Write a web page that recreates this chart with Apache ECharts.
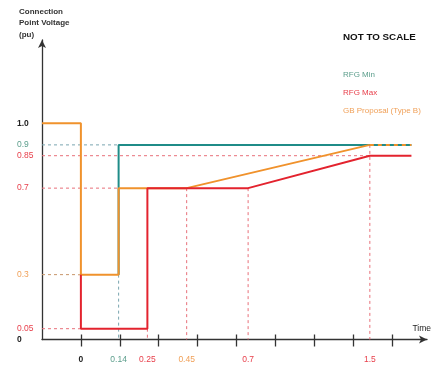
<!DOCTYPE html>
<html>
<head>
<meta charset="utf-8">
<script src="https://cdn.jsdelivr.net/npm/echarts@6.0.0/dist/echarts.min.js"></script>
<style>
html,body{margin:0;padding:0;background:#fff;}
#chart{width:434px;height:368px;}
</style>
</head>
<body>
<div id="chart"></div>
<script>
// ---- data ----
const timeLabels = ['0', '0.14', '0.25', '0.45', '0.7', '1.5'];
const timeValues = [0, 0.14, 0.25, 0.45, 0.7, 1.5];
// schematic ("not to scale") place of each time on the axis, in tick units
const timeSlots = [0, 0.97, 1.71, 2.72, 4.30, 7.43];
const voltageLabels = ['0', '0.05', '0.3', '0.7', '0.85', '0.9', '1.0'];
const voltageValues = [0, 0.05, 0.3, 0.7, 0.85, 0.9, 1.0];

// 'pre' = before the fault (axis start), 'post' = after the last event
const rfgMin = [[0.14, 0.3], [0.14, 0.7], [0.14, 0.9], ['post', 0.9]];
const rfgMax = [[0, 0.3], [0, 0.05], [0.25, 0.05], [0.25, 0.7], [0.7, 0.7], [1.5, 0.85], ['post', 0.85]];
const gbProposal = [['pre', 1.0], [0, 1.0], [0, 0.3], [0.14, 0.3], [0.14, 0.7], [0.45, 0.7], [1.5, 0.9]];
const gbProposalExt = [[1.5, 0.9], ['post', 0.9]];

// dashed reference lines: [from, to, colourKey]
const guides = [
  [['pre', 0.9], [0.14, 0.9], 'min'],
  [['pre', 0.85], [1.5, 0.85], 'max'],
  [['pre', 0.7], [0.14, 0.7], 'max'],
  [['pre', 0.3], [0, 0.3], 'gb'],
  [['pre', 0.05], [0, 0.05], 'max'],
  [[0.14, 0.3], [0.14, 0], 'min'],
  [[0.25, 0.05], [0.25, 0], 'max'],
  [[0.45, 0.7], [0.45, 0], 'max'],
  [[0.7, 0.7], [0.7, 0], 'max'],
  [[1.5, 0.9], [1.5, 0], 'max']
];
const timeLabelColour = ['dark', 'min', 'max', 'gb', 'max', 'max'];
const voltLabelColour = ['dark', 'max', 'gb', 'max', 'max', 'min', 'dark'];

// ---- styling ----
const C = {min: '#1f8c88', max: '#e3232e', gb: '#f0922c', dark: '#222'};
const CL = {min: '#5c9e8c', max: '#e8404c', gb: '#f0a058', dark: '#222'};
const CG = {min: '#7aa6b0', max: '#e8707a', gb: '#c8966a'};
const FONT = '"Liberation Sans",Arial,sans-serif';
const X_MIN = -1, X_MAX = 8.9, POST = 8.5;

function slot(t) {
  if (t === 'pre') return X_MIN;
  if (t === 'post') return POST;
  return timeSlots[timeValues.indexOf(t)];
}
const toXY = arr => arr.map(p => [slot(p[0]), p[1]]);

const rich = {};
Object.keys(CL).forEach(k => {
  rich[k] = {color: CL[k], fontFamily: FONT, fontSize: 8.5};
});
rich.dark = {color: '#222', fontFamily: FONT, fontSize: 8.5, fontWeight: 'bold'};

const guideSeries = guides.map(g => ({
  type: 'line', silent: true, showSymbol: false, z: 1,
  data: toXY([g[0], g[1]]),
  lineStyle: {color: CG[g[2]], width: 1, type: [3, 3]}
}));

const chart = echarts.init(document.getElementById('chart'), null, {renderer: 'canvas'});
chart.setOption({
  animation: false,
  backgroundColor: '#fff',
  textStyle: {fontFamily: FONT},
  title: [{
    text: 'Connection\nPoint Voltage\n(pu)', left: 19, top: 6, padding: 0,
    textStyle: {fontFamily: FONT, fontSize: 8, fontWeight: 'bold', color: '#333', lineHeight: 11.5}
  }, {
    text: 'NOT TO SCALE', left: 343, top: 32, padding: 0,
    textStyle: {fontFamily: FONT, fontSize: 9.8, fontWeight: 'bold', color: '#111'}
  }],
  legend: {
    orient: 'vertical', left: 338, top: 70, padding: 0, icon: 'rect',
    itemWidth: 0, itemHeight: 10, itemGap: 8,
    textStyle: {fontFamily: FONT, fontSize: 8},
    data: [
      {name: 'RFG Min', textStyle: {color: CL.min}},
      {name: 'RFG Max', textStyle: {color: CL.max}},
      {name: 'GB Proposal (Type B)', textStyle: {color: CL.gb}}
    ]
  },
  grid: {left: 42, right: 6, top: 40, bottom: 28.5, containLabel: false},
  xAxis: [{
    type: 'value', min: X_MIN, max: X_MAX, position: 'bottom',
    splitLine: {show: false},
    axisLine: {onZero: false, lineStyle: {color: '#333', width: 1.3}, symbol: ['none', 'arrow'], symbolSize: [6, 8]},
    axisTick: {inside: false, length: 7, lineStyle: {color: '#333', width: 1.3},
      customValues: [0, 1, 2, 3, 4, 5, 6, 7, 8]},
    axisLabel: {
      margin: 16, customValues: timeSlots,
      formatter: v => {
        const i = timeSlots.indexOf(v);
        return i < 0 ? '' : '{' + timeLabelColour[i] + '|' + timeLabels[i] + '}';
      },
      rich: rich
    },
    name: 'Time', nameLocation: 'end', nameGap: 4,
    nameTextStyle: {fontFamily: FONT, fontSize: 8.5, color: '#222', align: 'right', verticalAlign: 'bottom', padding: [0, 0, 6, 0]}
  }, {
    type: 'value', min: X_MIN, max: X_MAX, position: 'bottom',
    splitLine: {show: false}, axisLine: {show: false, onZero: false}, axisLabel: {show: false},
    axisTick: {inside: true, length: 5, lineStyle: {color: '#333', width: 1.3},
      customValues: [0, 1, 2, 3, 4, 5, 6, 7, 8]}
  }],
  yAxis: {
    type: 'value', min: 0, max: 1.385,
    splitLine: {show: false},
    axisLine: {onZero: false, lineStyle: {color: '#333', width: 1.3}, symbol: ['none', 'arrow'], symbolSize: [6, 8]},
    axisTick: {show: false},
    axisLabel: {
      margin: 25, align: 'left', customValues: voltageValues,
      formatter: v => {
        const i = voltageValues.indexOf(v);
        return i < 0 ? '' : '{' + voltLabelColour[i] + '|' + voltageLabels[i] + '}';
      },
      rich: rich
    }
  },
  series: guideSeries.concat([
    {name: 'RFG Min', type: 'line', showSymbol: false, z: 3, data: toXY(rfgMin),
      itemStyle: {color: C.min}, lineStyle: {color: C.min, width: 2}},
    {name: 'GB Proposal (Type B)', type: 'line', showSymbol: false, z: 4, data: toXY(gbProposal),
      itemStyle: {color: C.gb}, lineStyle: {color: C.gb, width: 2}},
    {name: 'GB Proposal (Type B)', type: 'line', showSymbol: false, z: 4, data: toXY(gbProposalExt),
      itemStyle: {color: C.gb}, lineStyle: {color: C.gb, width: 2, type: [4, 4]}},
    {name: 'RFG Max', type: 'line', showSymbol: false, z: 5, data: toXY(rfgMax),
      itemStyle: {color: C.max}, lineStyle: {color: C.max, width: 2}}
  ])
});
</script>
</body>
</html>
